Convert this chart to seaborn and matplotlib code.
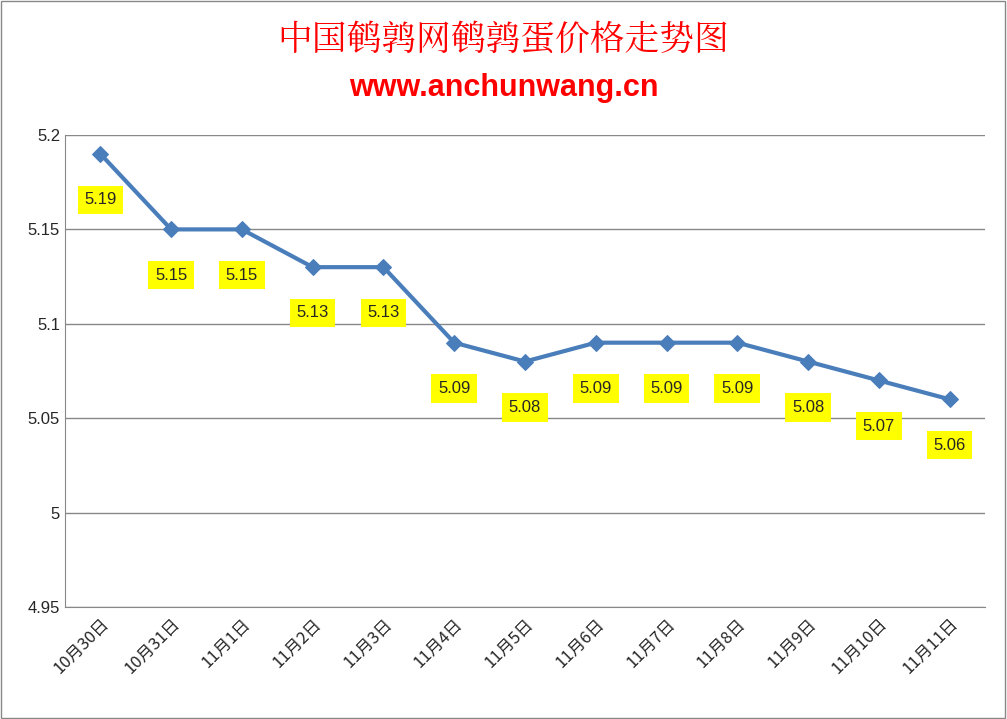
import matplotlib
matplotlib.use("Agg")
import matplotlib.pyplot as plt
import seaborn as sns
import pandas as pd

dates = ["10月30日","10月31日","11月1日","11月2日","11月3日","11月4日","11月5日","11月6日","11月7日","11月8日","11月9日","11月10日","11月11日"]
prices = [5.19,5.15,5.15,5.13,5.13,5.09,5.08,5.09,5.09,5.09,5.08,5.07,5.06]
yticks = [4.95,5,5.05,5.1,5.15,5.2]
ytick_labels = ["4.95","5","5.05","5.1","5.15","5.2"]

sns.set_style("white")
plt.rcParams['font.family'] = ['Noto Sans CJK SC', 'DejaVu Sans']
df = pd.DataFrame({"x": range(len(dates)), "y": prices})

fig = plt.figure(figsize=(10.07, 7.19), dpi=100)
ax = fig.add_axes([65/1007, 1-607/719, 920/1007, 472/719])
sns.lineplot(data=df, x="x", y="y", ax=ax, color="#4a7ebb", linewidth=3,
             marker="D", markersize=8, markeredgecolor="#4a7ebb")
ax.set_xlim(-0.5, len(dates)-0.5)
ax.set_ylim(4.95, 5.2)
ax.set_yticks(yticks)
ax.set_yticklabels(ytick_labels, fontsize=12, family=['Liberation Sans'])
ax.set_xticks(range(len(dates)))
ax.set_xticklabels(dates, rotation=45, ha="right", rotation_mode="anchor", fontsize=12)
ax.set_xlabel(""); ax.set_ylabel("")
ax.grid(axis="y", color="#888888", linewidth=1)
for s in ["top", "right"]:
    ax.spines[s].set_visible(False)
for s in ["left", "bottom"]:
    ax.spines[s].set_color("#888888")
ax.tick_params(axis="x", length=0, pad=6)
ax.tick_params(axis="y", length=0)
for i, v in enumerate(prices):
    ax.annotate(f"{v:.2f}", (i, v), xytext=(0, -33), textcoords="offset points",
                ha="center", va="center", fontsize=12, family=['Liberation Sans'],
                bbox=dict(boxstyle="square,pad=0.4", fc="#ffff00", ec="none"))

fig.text(0.5, 1-40/719, "中国鹌鹑网鹌鹑蛋价格走势图", ha="center", va="center",
         color="#ff0000", fontsize=25, family=['Noto Serif CJK SC', 'Noto Sans CJK SC'])
fig.text(0.5, 1-88/719, "www.anchunwang.cn", ha="center", va="center",
         color="#ff0000", fontsize=22, fontweight="bold", family=['Liberation Sans'])
fig.patches.append(plt.Rectangle((0.001, 0.001), 0.997, 0.997, transform=fig.transFigure,
                                 fill=False, ec="#888888", lw=1))
fig.savefig("out.png", dpi=100)
